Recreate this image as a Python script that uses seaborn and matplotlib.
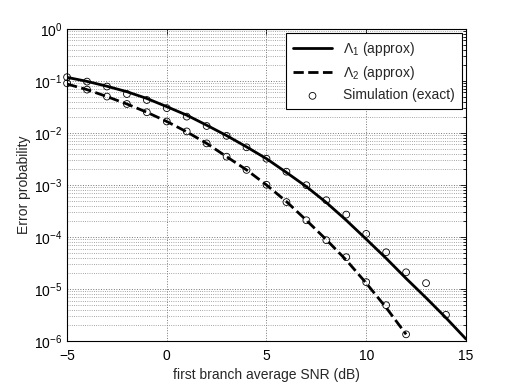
import numpy as np
import pandas as pd
import matplotlib
matplotlib.use('Agg')
import matplotlib.pyplot as plt
import seaborn as sns

# SNR axis (dB)
snr_line1 = list(range(-5, 16))
snr_line2 = list(range(-5, 13))
snr_sim1 = list(range(-5, 15))
snr_sim2 = list(range(-5, 13))

# Lambda_1 approximation
lam1 = [0.117, 0.098, 0.079, 0.062, 0.046, 0.032, 0.022, 0.0141, 0.0089, 0.0054,
        0.0032, 0.00174, 9.3e-4, 4.6e-4, 2.1e-4, 9.1e-5, 3.9e-5, 1.6e-5, 6.8e-6,
        2.8e-6, 1.1e-6]
# Lambda_2 approximation
lam2 = [0.087, 0.068, 0.050, 0.036, 0.025, 0.0166, 0.0105, 0.0063, 0.0035, 0.00195,
        0.0010, 4.8e-4, 2.1e-4, 8.9e-5, 3.6e-5, 1.3e-5, 4.4e-6, 1.35e-6]
# simulation points (exact)
sim1 = [0.118, 0.097, 0.078, 0.056, 0.043, 0.030, 0.0206, 0.0136, 0.0088, 0.0053,
        0.0032, 0.0018, 9.9e-4, 5.1e-4, 2.7e-4, 1.15e-4, 5.1e-5, 2.1e-5, 1.3e-5, 3.2e-6]
sim2 = [0.090, 0.068, 0.050, 0.036, 0.025, 0.0166, 0.0107, 0.0063, 0.0035, 0.00195,
        0.00101, 4.7e-4, 2.1e-4, 8.7e-5, 4.1e-5, 1.36e-5, 4.9e-6, 1.35e-6]

sns.set_theme(style='white')
plt.rcParams['font.family'] = ['Liberation Sans', 'DejaVu Sans']
plt.rcParams['mathtext.fontset'] = 'custom'
plt.rcParams['mathtext.rm'] = 'Liberation Sans'
plt.rcParams['mathtext.it'] = 'Liberation Sans:italic'
plt.rcParams['mathtext.bf'] = 'Liberation Sans:bold'

df1 = pd.DataFrame({'snr': snr_line1, 'pe': lam1})
df2 = pd.DataFrame({'snr': snr_line2, 'pe': lam2})
sim = pd.DataFrame({'snr': snr_sim1 + snr_sim2, 'pe': sim1 + sim2})

fig = plt.figure(figsize=(5.12, 3.85), dpi=100)
ax = fig.add_axes([0.131, 0.114, 0.779, 0.811])

sns.lineplot(data=df1, x='snr', y='pe', ax=ax, color='black', lw=2,
             label=r'$\Lambda_1$ (approx)')
sns.lineplot(data=df2, x='snr', y='pe', ax=ax, color='black', lw=2,
             linestyle='--', label=r'$\Lambda_2$ (approx)')
sns.scatterplot(data=sim, x='snr', y='pe', ax=ax, marker='o', s=24,
                facecolor='none', edgecolor='black', linewidth=0.6,
                label='Simulation (exact)', zorder=3, clip_on=False)

ax.set_yscale('log')
ax.set_xlim(-5, 15)
ax.set_ylim(1e-6, 1)
ax.set_xticks([-5, 0, 5, 10, 15])
ax.set_xticklabels(['\u22125', '0', '5', '10', '15'])
ax.set_yticks([1e-6, 1e-5, 1e-4, 1e-3, 1e-2, 1e-1, 1])

ax.grid(True, which='major', linestyle=':', color='#777777', lw=0.7)
ax.yaxis.grid(True, which='minor', linestyle=':', color='#888888', lw=0.6)
ax.tick_params(which='both', direction='in', top=True, right=True,
               labelsize=10, colors='black')
ax.tick_params(which='major', length=4, width=0.6)
ax.tick_params(which='minor', length=2, width=0.6)
ax.tick_params(axis='x', which='major', pad=6)
for s in ax.spines.values():
    s.set_color('black')
    s.set_linewidth(0.8)

ax.set_xlabel('first branch average SNR (dB)', fontsize=10, labelpad=3)
ax.set_ylabel('Error probability', fontsize=10, labelpad=2)

leg = ax.legend(loc='upper right', fontsize=10, frameon=True, fancybox=False,
                edgecolor='black', framealpha=1, borderpad=0.5,
                handlelength=2.8, labelspacing=0.45, borderaxespad=0.3)
leg.get_frame().set_linewidth(0.8)

fig.savefig('out.png', dpi=100)
